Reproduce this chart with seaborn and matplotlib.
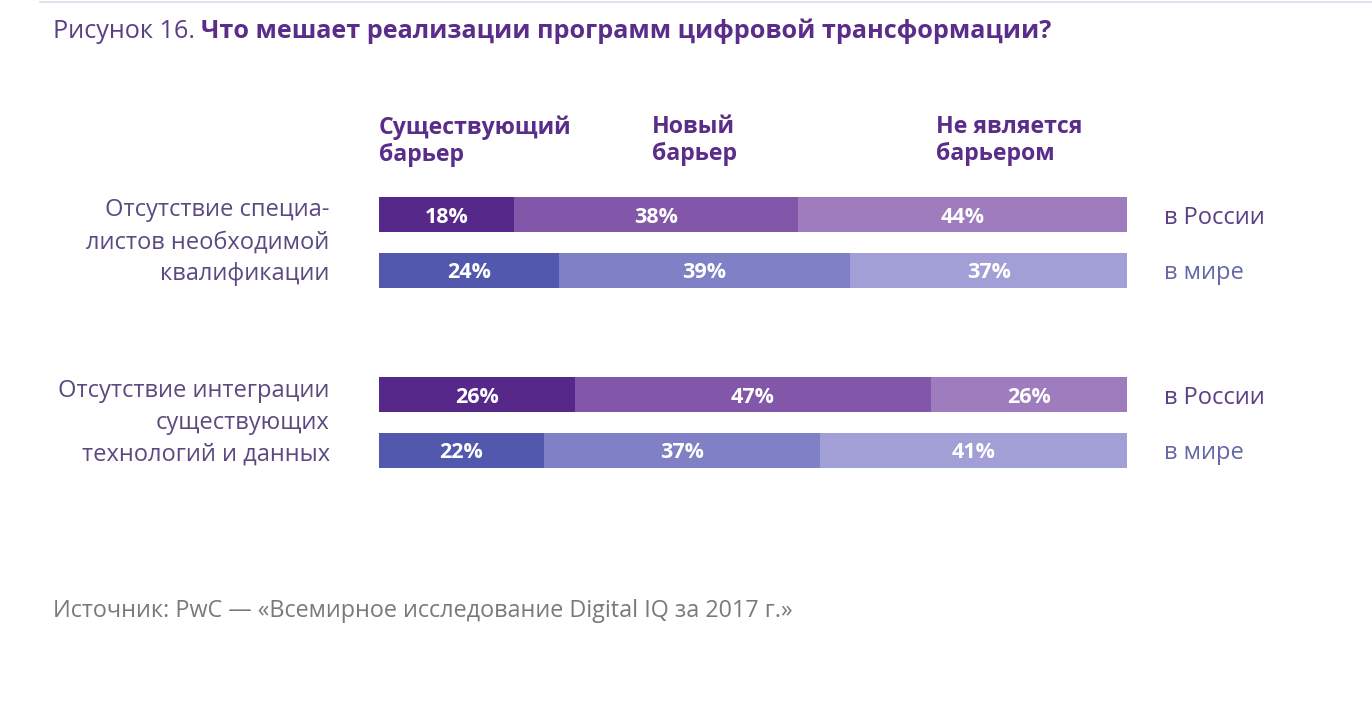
import numpy as np
import pandas as pd
import matplotlib
matplotlib.use('Agg')
import matplotlib.pyplot as plt
import seaborn as sns

# data
barriers = ['Отсутствие специа-\nлистов необходимой\nквалификации',
            'Отсутствие интеграции\nсуществующих\nтехнологий и данных']
regions = ['в России', 'в мире', 'в России', 'в мире']
row_ids = ['r1', 'w1', 'r2', 'w2']
segments = ['Существующий\nбарьер', 'Новый\nбарьер', 'Не является\nбарьером']
existing = [18, 24, 26, 22]
new = [38, 39, 47, 37]
not_barrier = [44, 37, 26, 41]

# layout / style
row_pos = [0, 1, 3.243, 4.243]
bar_w = 0.63
col_ru = ['#55288a', '#8257a9', '#9e7cbe']
col_w = ['#5158ad', '#8080c6', '#a29fd7']
row_colors = [col_ru, col_w, col_ru, col_w]

sns.set_theme(style='white')
plt.rcParams['font.family'] = ['Open Sans', 'DejaVu Sans']

W, H = 1372, 702
fig = plt.figure(figsize=(W / 100, H / 100), dpi=100)
ax = fig.add_axes([379 / W, (H - 468) / H, (1127 - 379) / W, (468 - 197) / H])

df = pd.DataFrame({'pos': row_pos, 'row': row_ids,
                   'existing': existing, 'new': new, 'not': not_barrier})
vals = df[['existing', 'new', 'not']].to_numpy()
# each bar is drawn as share of its row total (rounded values may not add to 100)
share = vals / vals.sum(axis=1, keepdims=True) * 100
cum = share.cumsum(axis=1)

# stacked bars: draw widest first, overlay shorter ones
for k in [2, 1, 0]:
    df['cum'] = cum[:, k]
    pal = {r: row_colors[i][k] for i, r in enumerate(row_ids)}
    sns.barplot(data=df, x='cum', y='pos', hue='row', palette=pal, orient='h',
                native_scale=True, dodge=False, width=bar_w, errorbar=None,
                legend=False, linewidth=0, saturation=1, ax=ax)

# percent labels
for i in range(len(row_pos)):
    for k in range(3):
        ax.text(cum[i, k] - share[i, k] / 2, row_pos[i], f'{vals[i, k]}%',
                ha='center', va='center_baseline', color='white', fontsize=15.5,
                fontweight='bold')

ax.set_xlim(0, 100)
ax.set_ylim(row_pos[-1] + bar_w / 2, row_pos[0] - bar_w / 2)
ax.axis('off')

# region labels on the right
reg_colors = ['#5b3e86', '#6468a8', '#5b3e86', '#6468a8']
for i, r in enumerate(regions):
    ax.text(104.9, row_pos[i], r, ha='left', va='center_baseline', fontsize=17,
            color=reg_colors[i])

# barrier labels on the left
for j, b in enumerate(barriers):
    yc = (row_pos[2 * j] + row_pos[2 * j + 1]) / 2
    ax.text(-6.6, yc, b, ha='right', va='center', fontsize=17,
            color='#5b4a80', linespacing=1.45)

# column headers
for x, s in zip([379, 652, 936], segments):
    fig.text(x / W, 1 - 115 / H, s, ha='left', va='top', fontsize=16.7,
             fontweight='bold', color='#5a2d8a', linespacing=1.18)

# title
t1 = fig.text(53 / W, 1 - 38 / H, 'Рисунок 16. ', ha='left', va='baseline',
              fontsize=18.2, color='#5b3e86')
fig.canvas.draw()
bb = t1.get_window_extent(renderer=fig.canvas.get_renderer())
fig.text(bb.x1 / W, 1 - 38 / H, 'Что мешает реализации программ цифровой трансформации?',
         ha='left', va='baseline', fontsize=18.2, fontweight='bold', color='#5a2d8a')

# top rule
fig.add_artist(plt.Line2D([40 / W, 1], [1 - 1.5 / H, 1 - 1.5 / H], color='#e6dff0', lw=1.5))

# source
fig.text(53 / W, 1 - 617 / H, 'Источник: PwC — «Всемирное исследование Digital IQ за 2017 г.»',
         ha='left', va='baseline', fontsize=16.8, color='#7a7a7a')

fig.savefig('out.png', dpi=100, facecolor='white')
